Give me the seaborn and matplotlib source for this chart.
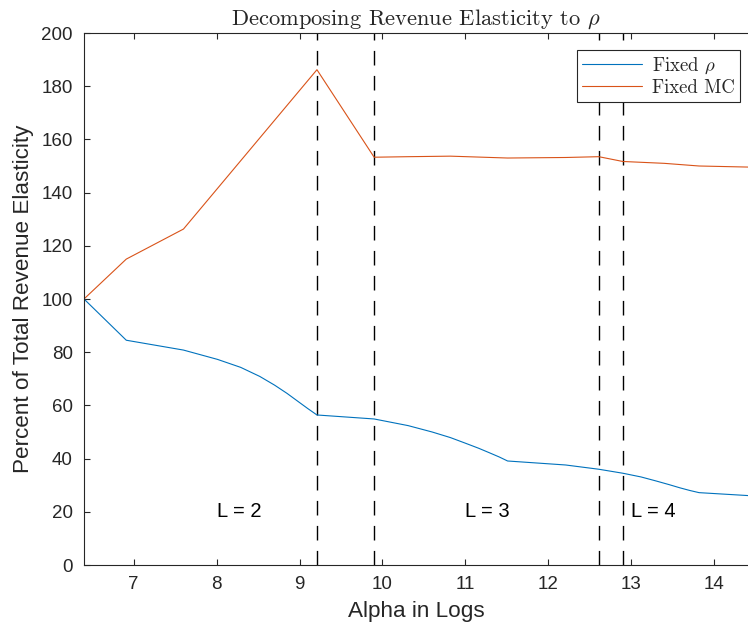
import numpy as np
import pandas as pd
import seaborn as sns
import matplotlib
matplotlib.use("Agg")
import matplotlib.pyplot as plt

# Log of alpha for each series, and share of total revenue elasticity (%)
x_fixed_rho = [6.40, 6.91, 7.60, 8.01, 8.29, 8.52, 8.70, 8.85, 8.99, 9.10, 9.21,
               9.90, 10.31, 10.60, 10.82, 11.00, 11.16, 11.29, 11.41, 11.51,
               12.21, 12.61, 12.90, 13.12, 13.30, 13.46, 13.59, 13.71, 13.82, 14.41]
y_fixed_rho = [100.0, 84.5, 80.8, 77.3, 74.3, 70.9, 67.6, 64.5, 61.3, 58.8, 56.4,
               54.9, 52.4, 50.0, 47.9, 45.8, 43.9, 42.2, 40.6, 39.1,
               37.6, 36.0, 34.5, 33.1, 31.6, 30.2, 29.0, 28.0, 27.2, 26.1]

x_fixed_mc = [6.40, 6.91, 7.60, 9.21, 9.90, 10.31, 10.82, 11.51, 12.21, 12.61,
              12.90, 13.40, 13.82, 14.41]
y_fixed_mc = [100.0, 115.0, 126.3, 186.2, 153.3, 153.5, 153.7, 153.0, 153.2, 153.5,
              151.7, 151.0, 150.0, 149.6]

series_names = [r"Fixed $\rho$", "Fixed MC"]
series_colors = ["#0072BD", "#D95319"]

# Regime boundaries (number of layers L) and their labels
regime_breaks = [9.21, 9.90, 12.61, 12.90]
regime_labels = ["L = 2", "L = 3", "L = 4"]
regime_label_x = [8.0, 11.0, 13.0]
regime_label_y = 20

x_ticks = [7, 8, 9, 10, 11, 12, 13, 14]
y_ticks = [0, 20, 40, 60, 80, 100, 120, 140, 160, 180, 200]

sns.set_style("ticks")
plt.rcParams["font.family"] = ["Liberation Sans", "DejaVu Sans"]
plt.rcParams["mathtext.fontset"] = "cm"

df = pd.concat([
    pd.DataFrame({"alpha": x_fixed_rho, "pct": y_fixed_rho, "series": series_names[0]}),
    pd.DataFrame({"alpha": x_fixed_mc, "pct": y_fixed_mc, "series": series_names[1]}),
], ignore_index=True)

fig = plt.figure(figsize=(7.48, 6.32), dpi=100)
ax = fig.add_axes([84 / 748, 1 - 565 / 632, 1 - 84 / 748, (565 - 33) / 632])

sns.lineplot(data=df, x="alpha", y="pct", hue="series", hue_order=series_names,
             palette=series_colors, estimator=None, sort=False, linewidth=0.8,
             ax=ax, legend=False)

for xb in regime_breaks:
    ax.axvline(xb, color="black", linewidth=1.0, linestyle=(0, (10.5, 7.5)), zorder=1)

for lab, lx in zip(regime_labels, regime_label_x):
    ax.text(lx, regime_label_y, lab, ha="left", va="center", fontsize=14.5, color="black")

ax.set_xlim(6.40, 14.41)
ax.set_ylim(0, 200)
ax.set_xticks(x_ticks)
ax.set_yticks(y_ticks)

edge = "#262626"
for side in ["left", "bottom", "top"]:
    ax.spines[side].set_color(edge)
    ax.spines[side].set_linewidth(0.8)
ax.spines["right"].set_visible(False)
ax.tick_params(axis="both", direction="in", length=4, width=0.8, colors=edge,
               labelsize=13.5, labelcolor=edge, pad=8)
ax.tick_params(axis="x", top=True)
ax.tick_params(axis="y", right=False)

ax.set_xlabel("Alpha in Logs", fontsize=16.2, color=edge, labelpad=6)
ax.set_ylabel("Percent of Total Revenue Elasticity", fontsize=16.2, color=edge, labelpad=5)
ax.set_title(r"Decomposing Revenue Elasticity to $\rho$", fontsize=16.2,
             family="cmr10", pad=6)

handles = [plt.Line2D([], [], color=c, linewidth=0.8) for c in series_colors]
leg = ax.legend(handles, series_names, loc="upper right",
                bbox_to_anchor=((740 - 84) / 664, 1 - (50 - 33) / 532),
                prop={"family": "cmr10", "size": 13.5}, frameon=True, fancybox=False,
                framealpha=1, edgecolor=edge, borderpad=0.3, labelspacing=0.15,
                handlelength=3.2, handletextpad=0.5, borderaxespad=0)
leg.get_frame().set_linewidth(0.8)

fig.savefig("out.png", dpi=100)
